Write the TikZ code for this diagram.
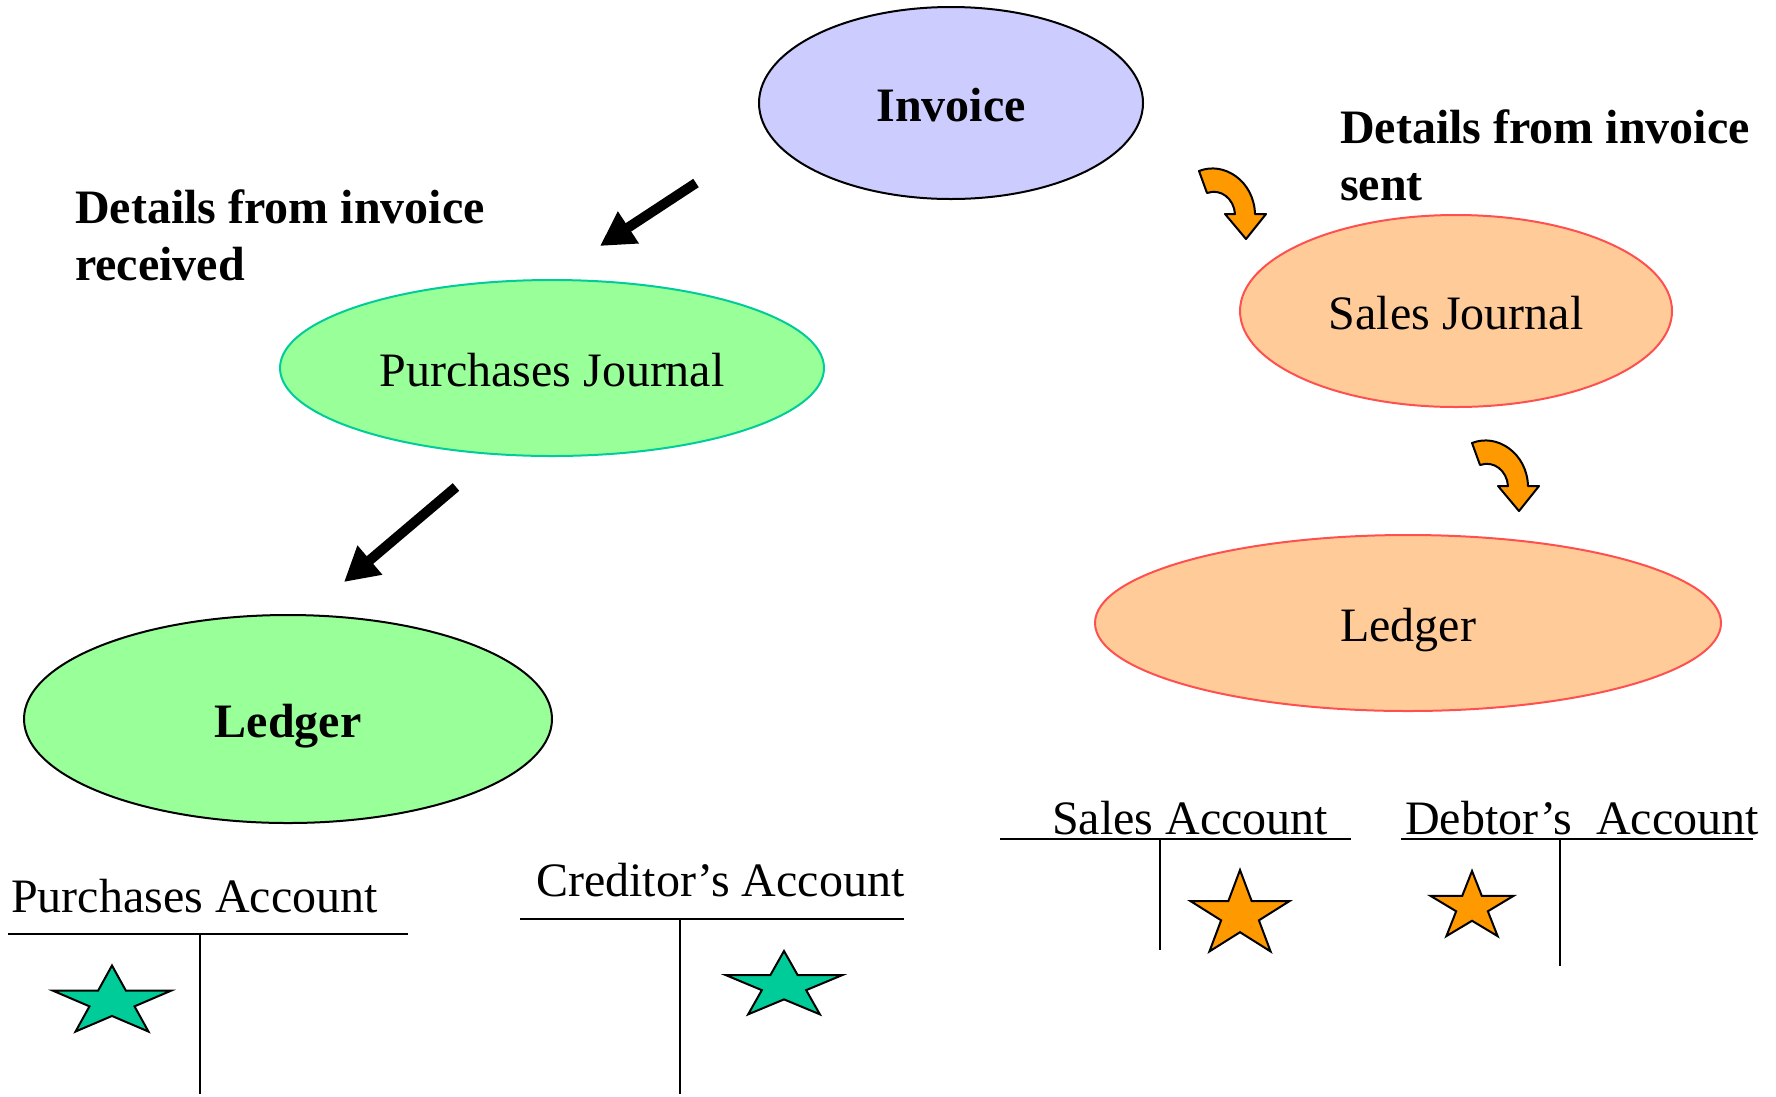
\documentclass[tikz,border=0pt]{standalone}
\usepackage{fontspec}
\setmainfont{Liberation Serif}
\usetikzlibrary{shapes.geometric,arrows.meta}

\definecolor{invfill}{RGB}{204,204,255}
\definecolor{mintfill}{RGB}{153,255,153}
\definecolor{pjline}{RGB}{0,204,153}
\definecolor{peachfill}{RGB}{255,204,153}
\definecolor{salesline}{RGB}{255,80,80}
\definecolor{stargreen}{RGB}{0,204,153}
\definecolor{amber}{RGB}{255,153,0}

\tikzset{
  bubble/.style={ellipse, inner sep=0pt, line width=2pt, text height=37pt, text depth=0pt,
    font=\fontsize{48}{57}\selectfont},
  boldlabel/.style={font=\fontsize{48}{57}\selectfont\bfseries, inner sep=0pt, anchor=base west},
  acctlabel/.style={font=\fontsize{48}{57}\selectfont, inner sep=0pt, anchor=base west},
  ruling/.style={line width=2.5pt},
  flowarrow/.style={line width=10pt, -{Triangle[length=34pt,width=36pt]}},
  curvedarrow/.style={fill=amber, draw=black, line width=2pt, line join=round},
  starshape/.style={draw=black, line width=2pt, line join=miter},
}

% five-pointed star: centre (#1,#2), radii #3 x #4, fill #5
\newcommand\ledgerstar[5]{%
  \draw[starshape, fill=#5, shift={(#1,#2)}, x=#3pt, y=#4pt]
    (90:1) -- (126:0.382) -- (162:1) -- (198:0.382) -- (234:1) -- (270:0.382)
    -- (306:1) -- (342:0.382) -- (18:1) -- (54:0.382) -- cycle;}

% bent block arrow pointing down-right, starting at (#1,#2)
\newcommand\bendarrow[2]{%
  \draw[curvedarrow, shift={(#1,#2)}]
    (0,0) .. controls (25,-10) and (55,10) .. (56,43) -- (67,43) -- (47,68)
    -- (26,43) -- (36,43) .. controls (35,28) and (22,17) .. (8,22) -- cycle;}

\begin{document}
\begin{tikzpicture}[x=1pt, y=-1pt]
\useasboundingbox (0,0) rectangle (1776,1096);

% journals and ledgers
\node[bubble, fill=invfill, draw=black, minimum width=384pt, minimum height=192pt, font=\fontsize{48}{57}\selectfont\bfseries]
  (invoice) at (951,103) {Invoice};
\node[bubble, fill=mintfill, draw=pjline, minimum width=544pt, minimum height=176pt]
  (pjournal) at (552,368) {Purchases Journal};
\node[bubble, fill=mintfill, draw=black, minimum width=528pt, minimum height=208pt, font=\fontsize{48}{57}\selectfont\bfseries]
  (pledger) at (288,719) {Ledger};
\node[bubble, fill=peachfill, draw=salesline, minimum width=432pt, minimum height=192pt]
  (sjournal) at (1456,311) {Sales Journal};
\node[bubble, fill=peachfill, draw=salesline, minimum width=626pt, minimum height=176pt]
  (sledger) at (1408,623) {Ledger};

% captions
\node[boldlabel] (recvA) at (75,223) {Details from invoice};
\node[boldlabel] (recvB) at (75,280) {received};
\node[boldlabel] (sentA) at (1340,143) {Details from invoice};
\node[boldlabel] (sentB) at (1340,200) {sent};

% purchases side arrows
\coordinate (arrAtail) at (696,183);
\coordinate (arrAtip) at (600,246);
\draw[flowarrow] (arrAtail) -- (arrAtip);
\coordinate (arrBtail) at (456,487);
\coordinate (arrBtip) at (344,582);
\draw[flowarrow] (arrBtail) -- (arrBtip);

% sales side arrows
\bendarrow{1199}{171}
\bendarrow{1472}{443}

% T accounts
\node[acctlabel] (purchacct) at (11,912) {Purchases Account};
\draw[ruling] (8,934) -- (408,934);
\draw[ruling] (200,934) -- (200,1094);
\ledgerstar{112}{1002}{62}{36.5}{stargreen}

\node[acctlabel] (credacct) at (536,896) {Creditor’s Account};
\draw[ruling] (520,919) -- (904,919);
\draw[ruling] (680,919) -- (680,1094);
\ledgerstar{784}{986}{61}{35}{stargreen}

\node[acctlabel] (salesacct) at (1052,834) {Sales Account};
\draw[ruling] (1000,839) -- (1351,839);
\draw[ruling] (1160,839) -- (1160,950);
\ledgerstar{1240}{915}{52}{45}{amber}

\node[acctlabel] (debtacct) at (1405,834) {Debtor’s\ \ Account};
\draw[ruling] (1401,839) -- (1753,839);
\draw[ruling] (1560,839) -- (1560,966);
\ledgerstar{1472}{907}{43.6}{36}{amber}
\end{tikzpicture}
\end{document}
